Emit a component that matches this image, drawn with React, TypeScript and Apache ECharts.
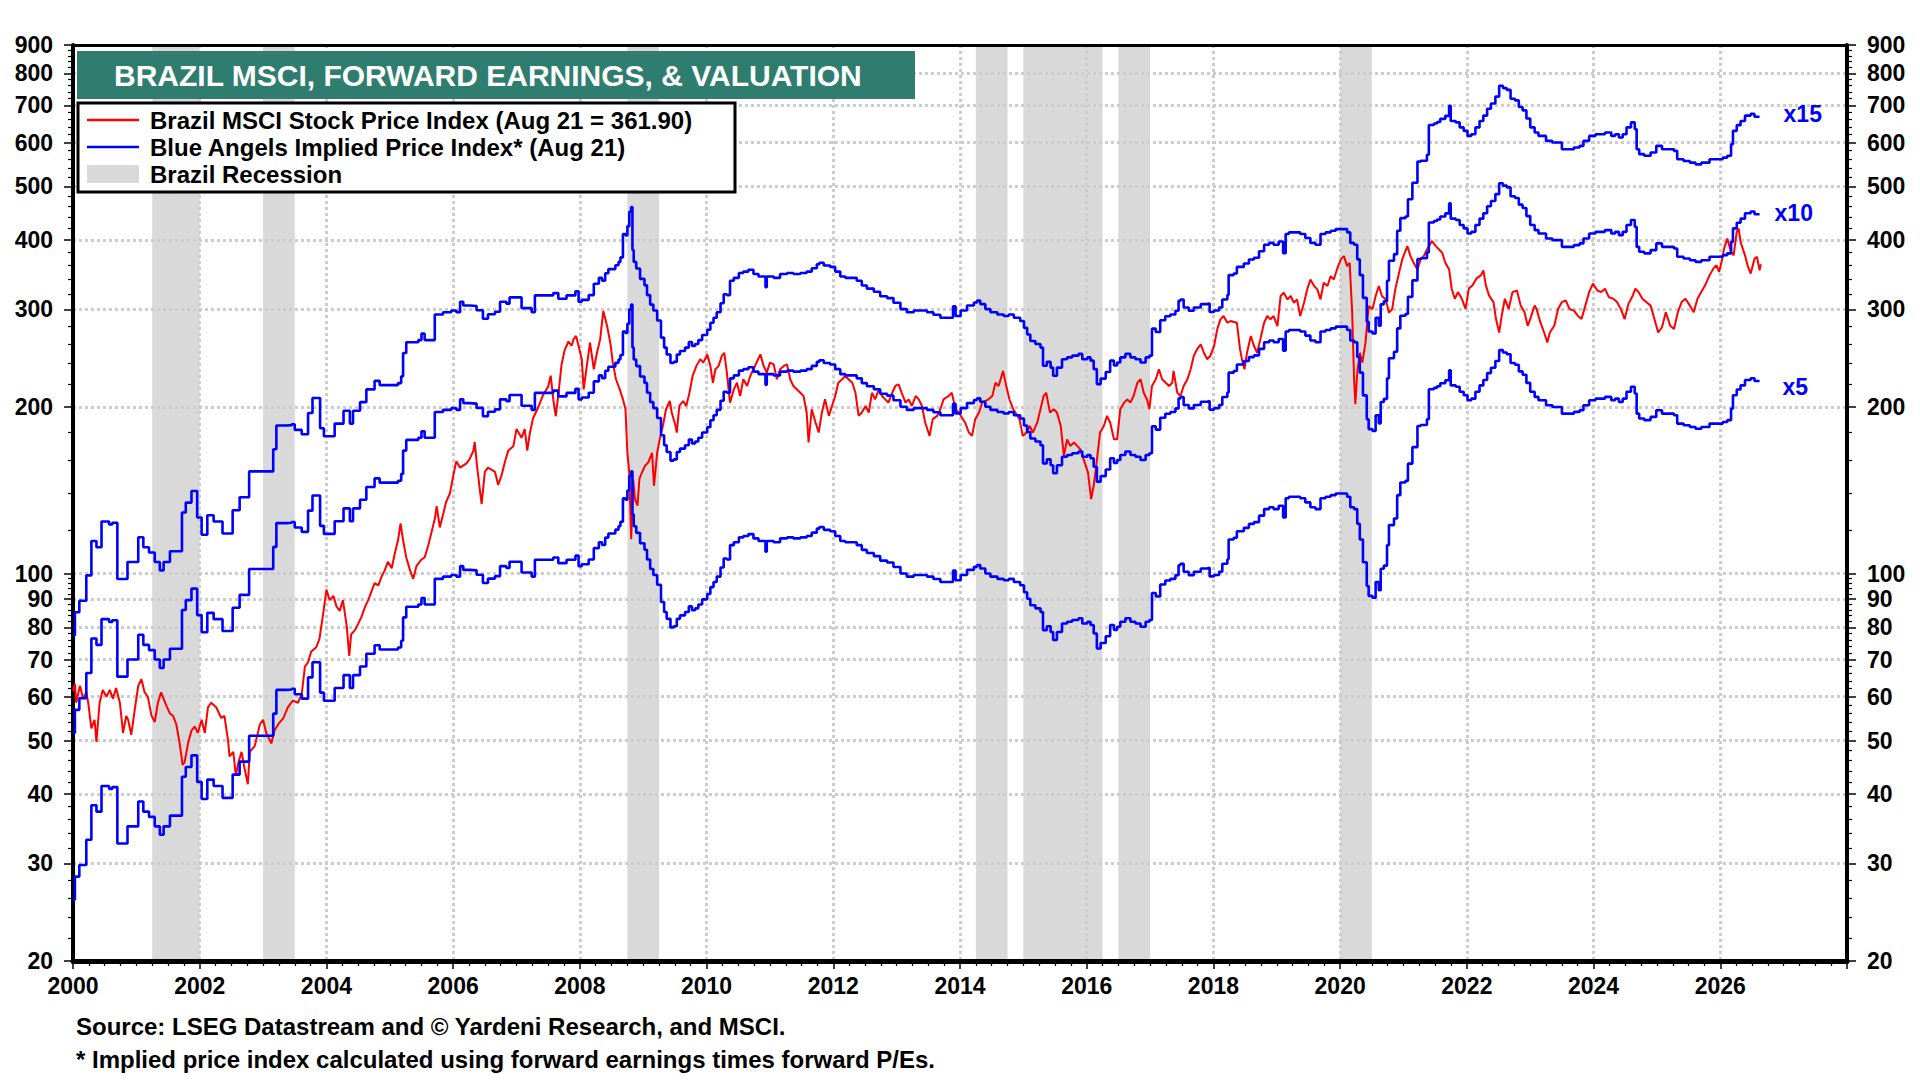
import React, { useEffect, useRef } from "react";
import * as echarts from "echarts";

const FONT = '"Liberation Sans", Arial, Helvetica, sans-serif';

// Y axis tick values (log scale)
const yMajorTicks = [20, 30, 40, 50, 60, 70, 80, 90, 100, 200, 300, 400, 500, 600, 700, 800, 900];
const yMinorTicks = [
  22, 24, 26, 28, 32, 34, 36, 38, 42, 44, 46, 48, 52, 54, 56, 58, 62, 64, 66, 68, 72, 74, 76, 78,
  82, 84, 86, 88, 92, 94, 96, 98, 120, 140, 160, 180, 220, 240, 260, 280, 320, 340, 360, 380,
  420, 440, 460, 480, 520, 540, 560, 580, 620, 640, 660, 680, 720, 740, 760, 780, 820, 840, 860, 880,
];

// Brazil recessions [start, end] in decimal years
const recessions: [number, number][] = [
  [2001.25, 2002.0],
  [2003.0, 2003.5],
  [2008.75, 2009.25],
  [2014.25, 2014.75],
  [2015.0, 2016.25],
  [2016.5, 2017.0],
  [2020.0, 2020.5],
];

// Forward P/E multiples for the implied price index lines
const peMultiples = [5, 10, 15];
const peLabels = ["x5", "x10", "x15"];

// Forward earnings (decimal year, value)
const fwdEarnings: [number, number][] = [
  [2000.0, 5.16], [2000.03, 5.68], [2000.1, 5.96], [2000.21, 6.62], [2000.29, 7.64], [2000.37, 7.44],
  [2000.45, 8.28], [2000.57, 8.18], [2000.62, 8.24], [2000.7, 6.52], [2000.86, 7.0], [2001.03, 7.76],
  [2001.11, 7.44], [2001.2, 7.28], [2001.29, 7.0], [2001.37, 6.76], [2001.43, 7.0], [2001.53, 7.32],
  [2001.72, 8.6], [2001.78, 8.96], [2001.87, 9.4], [2001.96, 8.42], [2002.03, 7.84], [2002.12, 8.5],
  [2002.22, 8.28], [2002.36, 7.88], [2002.52, 8.68], [2002.63, 9.16], [2002.78, 10.2], [2003.16, 11.18],
  [2003.21, 12.34], [2003.37, 12.36], [2003.45, 12.4], [2003.5, 12.12], [2003.61, 11.9], [2003.71, 13.0],
  [2003.78, 13.84], [2003.9, 12.2], [2003.96, 11.8], [2004.13, 12.44], [2004.27, 13.12], [2004.37, 12.44],
  [2004.42, 13.12], [2004.53, 13.6], [2004.63, 14.34], [2004.76, 14.86], [2004.84, 14.6], [2005.13, 14.72],
  [2005.18, 15.14], [2005.21, 16.68], [2005.26, 17.44], [2005.45, 17.6], [2005.5, 18.08], [2005.55, 17.6],
  [2005.71, 19.58], [2005.84, 19.76], [2005.97, 19.9], [2006.05, 19.76], [2006.11, 20.64], [2006.16, 20.32],
  [2006.26, 20.28], [2006.37, 19.92], [2006.47, 19.24], [2006.55, 19.6], [2006.66, 19.8], [2006.74, 20.64],
  [2006.84, 20.48], [2006.89, 21.02], [2007.08, 20.1], [2007.24, 19.76], [2007.29, 21.2], [2007.58, 21.4],
  [2007.66, 20.9], [2007.79, 21.2], [2007.93, 21.56], [2007.98, 20.64], [2008.03, 20.8], [2008.14, 21.22],
  [2008.22, 22.24], [2008.3, 22.8], [2008.35, 22.54], [2008.4, 23.24], [2008.45, 23.64], [2008.56, 24.02],
  [2008.61, 24.36], [2008.64, 24.82], [2008.68, 27.36], [2008.72, 27.2], [2008.75, 28.26], [2008.78, 30.0],
  [2008.81, 30.6], [2008.83, 25.6], [2008.85, 24.36], [2008.89, 23.7], [2008.95, 22.7], [2009.02, 22.1],
  [2009.06, 21.22], [2009.11, 20.4], [2009.16, 19.9], [2009.22, 19.1], [2009.28, 17.78], [2009.33, 17.06],
  [2009.37, 16.58], [2009.43, 16.0], [2009.48, 16.08], [2009.53, 16.58], [2009.58, 16.82], [2009.66, 17.06],
  [2009.72, 17.46], [2009.77, 17.18], [2009.82, 17.32], [2009.87, 17.6], [2009.93, 17.98], [2010.01, 18.38],
  [2010.06, 18.92], [2010.11, 19.32], [2010.16, 19.76], [2010.22, 20.52], [2010.27, 21.3], [2010.32, 21.22],
  [2010.37, 22.52], [2010.43, 22.8], [2010.51, 23.26], [2010.58, 23.4], [2010.66, 23.58], [2010.74, 23.16],
  [2010.82, 22.92], [2010.9, 22.92], [2010.93, 21.92], [2010.95, 22.92], [2011.06, 22.8], [2011.16, 23.16],
  [2011.27, 23.26], [2011.37, 23.16], [2011.48, 23.26], [2011.58, 23.4], [2011.66, 23.72], [2011.74, 24.12],
  [2011.78, 24.28], [2011.85, 24.0], [2011.95, 23.86], [2012.03, 23.4], [2012.11, 22.92], [2012.19, 22.8],
  [2012.3, 22.8], [2012.37, 22.52], [2012.45, 22.08], [2012.53, 21.8], [2012.64, 21.52], [2012.74, 21.12],
  [2012.85, 20.96], [2012.95, 20.56], [2013.06, 20.02], [2013.16, 19.76], [2013.27, 19.9], [2013.37, 19.9],
  [2013.48, 19.76], [2013.58, 19.56], [2013.69, 19.32], [2013.8, 19.32], [2013.87, 19.32], [2013.89, 20.26],
  [2013.93, 19.46], [2014.01, 19.9], [2014.11, 20.32], [2014.22, 20.58], [2014.27, 20.74], [2014.32, 20.44],
  [2014.4, 20.02], [2014.48, 19.76], [2014.59, 19.58], [2014.69, 19.46], [2014.77, 19.58], [2014.85, 19.32],
  [2014.95, 19.06], [2015.01, 18.52], [2015.06, 18.02], [2015.11, 17.54], [2015.19, 17.32], [2015.27, 17.06],
  [2015.31, 15.82], [2015.37, 16.08], [2015.43, 15.7], [2015.47, 15.18], [2015.53, 15.7], [2015.61, 16.26],
  [2015.69, 16.38], [2015.77, 16.5], [2015.87, 16.62], [2015.93, 16.26], [2016.01, 16.38], [2016.06, 16.16],
  [2016.11, 15.6], [2016.16, 14.66], [2016.22, 15.0], [2016.3, 15.42], [2016.37, 16.16], [2016.43, 15.84],
  [2016.48, 16.04], [2016.53, 16.38], [2016.61, 16.62], [2016.69, 16.38], [2016.77, 16.26], [2016.85, 16.04],
  [2016.93, 16.38], [2016.99, 16.5], [2017.03, 18.46], [2017.09, 18.2], [2017.16, 19.12], [2017.24, 19.44],
  [2017.32, 19.58], [2017.4, 19.88], [2017.45, 20.72], [2017.48, 20.84], [2017.53, 20.16], [2017.61, 19.88],
  [2017.69, 20.16], [2017.8, 20.44], [2017.9, 20.5], [2017.94, 19.78], [2018.01, 19.9], [2018.09, 20.16],
  [2018.14, 20.84], [2018.22, 21.24], [2018.24, 23.06], [2018.32, 23.22], [2018.37, 23.86], [2018.48, 24.2],
  [2018.56, 24.6], [2018.64, 24.78], [2018.72, 25.46], [2018.8, 26.16], [2018.88, 26.36], [2018.95, 26.16],
  [2019.03, 26.52], [2019.1, 25.26], [2019.14, 27.36], [2019.19, 27.54], [2019.27, 27.54], [2019.37, 27.36],
  [2019.45, 26.9], [2019.53, 26.36], [2019.61, 26.16], [2019.69, 27.36], [2019.77, 27.54], [2019.85, 27.72],
  [2019.93, 27.92], [2020.03, 27.92], [2020.11, 27.54], [2020.16, 26.36], [2020.22, 26.16], [2020.27, 24.62],
  [2020.31, 23.06], [2020.36, 20.98], [2020.42, 19.0], [2020.45, 18.24], [2020.51, 18.1], [2020.56, 19.32],
  [2020.61, 18.68], [2020.64, 20.42], [2020.69, 20.68], [2020.74, 22.52], [2020.77, 24.48], [2020.85, 25.16],
  [2020.9, 27.72], [2020.95, 29.22], [2021.03, 29.42], [2021.07, 31.6], [2021.14, 33.84], [2021.22, 36.96],
  [2021.27, 37.1], [2021.32, 37.1], [2021.37, 38.02], [2021.4, 43.04], [2021.48, 43.3], [2021.53, 43.58],
  [2021.58, 44.14], [2021.66, 44.7], [2021.72, 46.6], [2021.745, 43.74], [2021.825, 43.5], [2021.887, 42.6],
  [2021.95, 42.0], [2022.01, 41.12], [2022.07, 41.4], [2022.135, 42.6], [2022.2, 43.74], [2022.26, 44.74],
  [2022.32, 46.04], [2022.38, 47.06], [2022.45, 48.42], [2022.51, 50.66], [2022.57, 50.16], [2022.63, 49.8],
  [2022.69, 48.0], [2022.76, 47.66], [2022.82, 46.36], [2022.88, 45.72], [2022.94, 44.2], [2023.0, 42.6],
  [2023.07, 41.7], [2023.13, 41.12], [2023.25, 40.28], [2023.35, 40.0], [2023.5, 38.9], [2023.69, 39.18],
  [2023.78, 39.46], [2023.84, 40.28], [2023.93, 41.12], [2024.03, 41.4], [2024.18, 41.7], [2024.28, 41.12],
  [2024.34, 41.4], [2024.4, 40.84], [2024.46, 41.4], [2024.52, 42.6], [2024.59, 43.5], [2024.65, 42.3],
  [2024.68, 38.9], [2024.72, 38.12], [2024.8, 37.86], [2024.9, 38.38], [2024.99, 39.46], [2025.08, 38.9],
  [2025.27, 38.64], [2025.32, 37.32], [2025.42, 37.06], [2025.52, 36.8], [2025.61, 36.54], [2025.7, 36.8],
  [2025.83, 37.32], [2025.95, 37.32], [2026.04, 37.58], [2026.11, 37.86], [2026.17, 39.72], [2026.2, 42.0],
  [2026.26, 43.0], [2026.32, 43.74], [2026.39, 44.74], [2026.48, 45.06], [2026.54, 44.54], [2026.62, 44.54],
];

// Brazil MSCI stock price index (decimal year, value)
const msciPrice: [number, number][] = [
  [2000.0, 61.5], [2000.03, 63.3], [2000.05, 58.5], [2000.11, 62.8], [2000.16, 59.5], [2000.21, 61.1],
  [2000.24, 58.5], [2000.29, 52.6], [2000.34, 54.5], [2000.37, 49.7], [2000.42, 58.5], [2000.47, 61.7],
  [2000.53, 60.0], [2000.58, 61.7], [2000.63, 59.5], [2000.68, 62.2], [2000.74, 58.5], [2000.79, 51.6],
  [2000.84, 55.4], [2000.87, 54.5], [2000.92, 51.2], [2000.97, 56.4], [2001.03, 62.8], [2001.08, 64.5],
  [2001.13, 61.1], [2001.18, 60.0], [2001.24, 55.4], [2001.29, 54.0], [2001.34, 58.5], [2001.39, 61.1],
  [2001.47, 57.9], [2001.53, 55.9], [2001.58, 55.4], [2001.63, 53.5], [2001.68, 49.7], [2001.73, 45.2],
  [2001.76, 45.6], [2001.82, 49.7], [2001.87, 52.1], [2001.92, 53.0], [2001.97, 51.6], [2002.03, 54.5],
  [2002.08, 51.6], [2002.13, 57.4], [2002.18, 58.5], [2002.26, 57.4], [2002.34, 54.9], [2002.39, 55.4],
  [2002.45, 49.7], [2002.47, 46.8], [2002.53, 47.7], [2002.57, 43.2], [2002.61, 45.6], [2002.66, 47.7],
  [2002.71, 44.4], [2002.76, 41.7], [2002.79, 47.7], [2002.87, 48.9], [2002.95, 53.5], [2003.0, 54.5],
  [2003.05, 51.6], [2003.13, 49.4], [2003.18, 52.1], [2003.24, 53.5], [2003.32, 54.9], [2003.39, 57.4],
  [2003.47, 59.0], [2003.55, 58.5], [2003.61, 60.6], [2003.66, 68.0], [2003.71, 69.2], [2003.76, 72.4],
  [2003.84, 73.7], [2003.89, 76.3], [2003.95, 84.9], [2004.0, 93.6], [2004.05, 89.6], [2004.11, 91.2],
  [2004.16, 87.2], [2004.21, 85.7], [2004.26, 89.6], [2004.32, 80.5], [2004.36, 71.1], [2004.39, 77.7],
  [2004.45, 79.1], [2004.5, 81.2], [2004.55, 83.4], [2004.61, 87.2], [2004.66, 89.6], [2004.71, 92.8],
  [2004.76, 96.2], [2004.82, 95.3], [2004.87, 98.8], [2004.92, 101.4], [2004.97, 105.1], [2005.03, 102.3],
  [2005.08, 108.9], [2005.13, 114.9], [2005.17, 123.3], [2005.21, 114.9], [2005.26, 107.0], [2005.32, 101.4],
  [2005.37, 97.9], [2005.42, 103.2], [2005.5, 106.1], [2005.55, 107.0], [2005.61, 112.8], [2005.66, 119.0],
  [2005.71, 125.5], [2005.74, 132.4], [2005.79, 121.2], [2005.84, 127.8], [2005.89, 134.8], [2005.95, 139.7],
  [2006.0, 150.0], [2006.05, 159.6], [2006.11, 155.4], [2006.21, 158.2], [2006.26, 161.0], [2006.32, 166.8],
  [2006.34, 172.9], [2006.38, 155.4], [2006.42, 142.2], [2006.45, 133.6], [2006.5, 152.7], [2006.55, 155.4],
  [2006.61, 154.0], [2006.66, 152.7], [2006.71, 144.7], [2006.76, 150.0], [2006.82, 159.6], [2006.87, 166.8],
  [2006.95, 169.8], [2007.0, 182.4], [2007.08, 175.9], [2007.13, 182.4], [2007.17, 166.8], [2007.21, 179.1],
  [2007.26, 190.6], [2007.34, 199.3], [2007.42, 210.2], [2007.5, 217.8], [2007.54, 227.7], [2007.58, 206.5],
  [2007.62, 192.4], [2007.66, 210.2], [2007.71, 238.0], [2007.76, 253.3], [2007.82, 262.5], [2007.87, 257.9],
  [2007.9, 264.8], [2007.94, 268.6], [2007.98, 257.6], [2008.03, 243.9], [2008.06, 215.1], [2008.11, 237.2],
  [2008.16, 261.2], [2008.22, 233.9], [2008.27, 250.5], [2008.32, 264.8], [2008.37, 297.9], [2008.43, 279.9],
  [2008.48, 261.2], [2008.52, 240.4], [2008.57, 224.4], [2008.63, 215.1], [2008.68, 206.4], [2008.72, 198.1],
  [2008.75, 165.3], [2008.78, 152.4], [2008.81, 115.4], [2008.84, 148.3], [2008.87, 136.4], [2008.91, 132.7],
  [2008.94, 148.3], [2008.98, 152.4], [2009.03, 156.6], [2009.08, 158.8], [2009.14, 165.3], [2009.17, 144.1],
  [2009.22, 165.3], [2009.26, 174.8], [2009.31, 184.8], [2009.36, 198.1], [2009.42, 205.0], [2009.45, 195.4],
  [2009.51, 184.8], [2009.53, 179.8], [2009.57, 200.8], [2009.63, 205.0], [2009.68, 200.8], [2009.73, 212.1],
  [2009.78, 227.5], [2009.84, 237.2], [2009.9, 243.9], [2009.95, 240.4], [2010.01, 248.8], [2010.06, 237.2],
  [2010.1, 221.1], [2010.14, 233.9], [2010.19, 237.2], [2010.24, 247.2], [2010.28, 250.5], [2010.32, 230.6],
  [2010.37, 203.6], [2010.43, 215.1], [2010.48, 221.1], [2010.53, 209.3], [2010.58, 224.4], [2010.64, 218.2],
  [2010.69, 227.5], [2010.74, 233.9], [2010.8, 242.1], [2010.85, 248.8], [2010.9, 237.2], [2010.95, 230.6],
  [2011.0, 240.4], [2011.06, 238.7], [2011.11, 224.4], [2011.16, 233.9], [2011.22, 237.2], [2011.27, 238.7],
  [2011.32, 224.4], [2011.37, 218.2], [2011.48, 212.1], [2011.53, 209.3], [2011.58, 195.4], [2011.61, 172.5],
  [2011.66, 198.1], [2011.72, 187.5], [2011.77, 179.8], [2011.82, 195.4], [2011.87, 206.4], [2011.93, 192.7],
  [2011.98, 200.8], [2012.03, 209.3], [2012.08, 221.1], [2012.14, 224.4], [2012.19, 227.5], [2012.24, 224.4],
  [2012.3, 221.1], [2012.35, 212.1], [2012.4, 192.7], [2012.45, 195.4], [2012.51, 200.8], [2012.56, 195.4],
  [2012.61, 212.1], [2012.66, 206.4], [2012.72, 215.1], [2012.77, 209.3], [2012.82, 206.4], [2012.87, 203.6],
  [2012.93, 212.1], [2012.98, 218.2], [2013.03, 219.7], [2013.08, 212.1], [2013.14, 203.6], [2013.19, 206.4],
  [2013.24, 200.8], [2013.3, 209.3], [2013.35, 206.4], [2013.4, 200.8], [2013.45, 187.5], [2013.52, 177.3],
  [2013.57, 190.1], [2013.64, 192.7], [2013.69, 198.1], [2013.74, 206.4], [2013.82, 209.3], [2013.87, 212.1],
  [2013.93, 198.1], [2013.98, 195.4], [2014.08, 187.5], [2014.14, 179.8], [2014.19, 177.3], [2014.24, 190.1],
  [2014.3, 195.4], [2014.35, 203.6], [2014.45, 206.4], [2014.51, 209.3], [2014.56, 221.1], [2014.61, 218.2],
  [2014.68, 232.3], [2014.73, 218.2], [2014.78, 206.4], [2014.84, 198.1], [2014.94, 190.1], [2014.99, 177.3],
  [2015.05, 179.8], [2015.1, 184.8], [2015.15, 179.8], [2015.22, 187.5], [2015.27, 198.1], [2015.32, 209.3],
  [2015.36, 212.1], [2015.42, 195.4], [2015.48, 198.1], [2015.53, 195.4], [2015.59, 184.8], [2015.64, 163.2],
  [2015.69, 174.8], [2015.74, 170.1], [2015.8, 172.5], [2015.85, 170.1], [2015.9, 167.7], [2015.95, 161.0],
  [2016.02, 152.4], [2016.07, 136.4], [2016.11, 144.1], [2016.15, 156.6], [2016.21, 179.8], [2016.27, 184.8],
  [2016.32, 192.7], [2016.37, 187.5], [2016.43, 174.8], [2016.48, 174.8], [2016.53, 198.1], [2016.59, 203.6],
  [2016.64, 206.4], [2016.69, 203.6], [2016.74, 209.3], [2016.8, 221.1], [2016.85, 224.4], [2016.9, 212.1],
  [2016.95, 206.4], [2016.99, 198.1], [2017.03, 218.2], [2017.09, 224.4], [2017.14, 233.9], [2017.19, 224.4],
  [2017.3, 218.2], [2017.35, 221.1], [2017.37, 232.3], [2017.43, 212.1], [2017.48, 209.3], [2017.53, 218.2],
  [2017.59, 224.4], [2017.64, 233.9], [2017.69, 247.2], [2017.74, 254.0], [2017.8, 259.4], [2017.85, 250.5],
  [2017.9, 243.9], [2017.95, 247.2], [2018.01, 257.6], [2018.06, 276.1], [2018.11, 287.8], [2018.16, 291.8],
  [2018.22, 283.8], [2018.27, 285.8], [2018.37, 283.8], [2018.42, 254.0], [2018.45, 243.9], [2018.49, 233.9],
  [2018.53, 250.5], [2018.59, 268.6], [2018.64, 257.6], [2018.69, 250.5], [2018.74, 264.8], [2018.8, 283.8],
  [2018.85, 291.8], [2018.9, 287.8], [2018.95, 291.8], [2019.01, 279.9], [2019.06, 317.1], [2019.11, 321.5],
  [2019.17, 312.7], [2019.22, 317.1], [2019.27, 308.4], [2019.32, 312.7], [2019.37, 291.8], [2019.43, 308.4],
  [2019.48, 325.9], [2019.53, 339.7], [2019.59, 330.5], [2019.64, 325.9], [2019.69, 312.7], [2019.74, 335.1],
  [2019.8, 330.5], [2019.85, 344.5], [2019.9, 339.7], [2019.95, 354.1], [2020.01, 369.2], [2020.06, 374.3],
  [2020.11, 359.1], [2020.15, 364.1], [2020.19, 295.9], [2020.22, 224.4], [2020.24, 202.2], [2020.27, 230.6],
  [2020.31, 250.5], [2020.35, 240.4], [2020.4, 261.2], [2020.45, 304.2], [2020.51, 300.0], [2020.56, 317.1],
  [2020.61, 330.5], [2020.66, 317.1], [2020.72, 312.7], [2020.77, 295.9], [2020.82, 300.0], [2020.87, 325.9],
  [2020.93, 349.3], [2020.98, 369.2], [2021.06, 390.2], [2021.11, 374.3], [2021.16, 364.1], [2021.22, 354.1],
  [2021.27, 369.2], [2021.32, 374.3], [2021.37, 384.8], [2021.45, 398.4], [2021.51, 390.2], [2021.61, 379.6],
  [2021.66, 364.1], [2021.72, 354.1], [2021.76, 326.9], [2021.81, 313.5], [2021.86, 322.3], [2021.92, 313.5],
  [2021.98, 300.5], [2022.03, 326.9], [2022.09, 331.5], [2022.15, 340.8], [2022.22, 345.5], [2022.26, 352.8],
  [2022.3, 331.5], [2022.35, 317.9], [2022.42, 309.2], [2022.46, 288.1], [2022.51, 272.5], [2022.55, 292.2],
  [2022.6, 313.5], [2022.66, 300.5], [2022.72, 322.3], [2022.79, 324.5], [2022.85, 304.7], [2022.91, 296.4],
  [2022.96, 280.2], [2023.0, 288.1], [2023.07, 304.7], [2023.1, 300.5], [2023.16, 284.2], [2023.22, 272.5],
  [2023.27, 261.5], [2023.31, 272.5], [2023.38, 280.2], [2023.44, 300.5], [2023.5, 309.2], [2023.56, 311.3],
  [2023.62, 300.5], [2023.69, 298.5], [2023.75, 292.2], [2023.81, 288.1], [2023.87, 304.7], [2023.93, 322.3],
  [2023.99, 333.8], [2024.06, 324.5], [2024.12, 322.3], [2024.18, 326.9], [2024.24, 315.6], [2024.31, 313.5],
  [2024.37, 309.2], [2024.43, 300.5], [2024.49, 288.1], [2024.55, 306.9], [2024.62, 317.9], [2024.66, 326.9],
  [2024.71, 322.3], [2024.77, 313.5], [2024.9, 304.7], [2024.96, 288.1], [2025.02, 272.5], [2025.08, 278.5],
  [2025.14, 296.4], [2025.21, 280.2], [2025.27, 276.4], [2025.33, 296.4], [2025.39, 309.2], [2025.45, 313.5],
  [2025.52, 304.7], [2025.58, 296.4], [2025.64, 313.5], [2025.7, 322.3], [2025.76, 331.5], [2025.83, 345.5],
  [2025.89, 355.3], [2025.94, 360.3], [2025.98, 350.5], [2026.02, 365.3], [2026.06, 386.2], [2026.11, 402.8],
  [2026.17, 380.8], [2026.21, 375.5], [2026.26, 414.1], [2026.29, 419.7], [2026.32, 397.2], [2026.39, 375.5],
  [2026.43, 360.3], [2026.48, 348.1], [2026.54, 370.4], [2026.58, 373.0], [2026.62, 352.8], [2026.64, 361.9],
];

const titleText = "BRAZIL MSCI, FORWARD EARNINGS, & VALUATION";
const legendTexts = [
  "Brazil MSCI Stock Price Index (Aug 21 = 361.90)",
  "Blue Angels Implied Price Index* (Aug 21)",
  "Brazil Recession",
];
const footnotes = [
  "Source: LSEG Datastream and \u00a9 Yardeni Research, and MSCI.",
  "* Implied price index calculated using forward earnings times forward P/Es.",
];

const GRID_LINE = { color: "#cdcdcd", width: 3, type: [3, 3] as number[] };
const AXIS_LABEL = { color: "#000", fontSize: 23, fontWeight: "bold" as const, fontFamily: FONT };

const endLabelOffsets: Record<string, [number, number]> = {
  x5: [23, 6],
  x10: [15, -1],
  x15: [24, -3],
};

function buildOption() {
  const majorY = (position: "left" | "right") => ({
    type: "log",
    logBase: 10,
    min: 20,
    max: 900,
    position,
    axisLine: { show: true, onZero: false, lineStyle: { color: "#000", width: 4 } },
    axisTick: { show: true, customValues: yMajorTicks, length: 9, lineStyle: { color: "#000", width: 1.5 } },
    axisLabel: {
      ...AXIS_LABEL,
      customValues: yMajorTicks,
      margin: 20,
      formatter: (v: number) => String(Math.round(v)),
    },
    splitLine: { show: position === "left", lineStyle: GRID_LINE },
    minorTick: { show: false },
    minorSplitLine: { show: false },
  });
  const minorY = (position: "left" | "right") => ({
    type: "log",
    logBase: 10,
    min: 20,
    max: 900,
    position,
    axisLine: { show: false },
    axisTick: { show: true, customValues: yMinorTicks, length: 5, lineStyle: { color: "#000", width: 1.2 } },
    axisLabel: { show: false },
    splitLine: { show: false },
  });

  const blueSeries = peMultiples.map((pe, i) => ({
    type: "line",
    name: `Implied ${peLabels[i]}`,
    step: "end",
    xAxisIndex: 0,
    yAxisIndex: 0,
    symbol: "none",
    z: 4,
    lineStyle: { color: "#0000ff", width: 2.6 },
    itemStyle: { color: "#0000ff" },
    data: fwdEarnings.map(([t, e]) => [t, +(e * pe).toFixed(2)]),
    endLabel: {
      show: true,
      formatter: peLabels[i],
      color: "#0000ff",
      fontSize: 23,
      fontWeight: "bold",
      fontFamily: FONT,
      distance: 0,
      offset: endLabelOffsets[peLabels[i]],
    },
  }));

  const txt = (text: string, x: number, y: number, size: number, fill: string) => ({
    type: "text",
    x,
    y,
    z: 101,
    style: {
      text,
      fill,
      fontSize: size,
      fontWeight: "bold",
      fontFamily: FONT,
      verticalAlign: "middle",
      textVerticalAlign: "middle",
    },
  });

  return {
    animation: false,
    backgroundColor: "#ffffff",
    textStyle: { fontFamily: FONT },
    grid: { left: 73, right: 73, top: 45, bottom: 119, containLabel: false },
    xAxis: [
      {
        type: "value",
        min: 2000,
        max: 2028,
        interval: 2,
        position: "bottom",
        axisLine: { show: true, onZero: false, lineStyle: { color: "#000", width: 5 } },
        axisTick: { show: true, length: 8, lineStyle: { color: "#000", width: 1.5 } },
        minorTick: { show: true, splitNumber: 8, length: 5, lineStyle: { color: "#000", width: 1.2 } },
        axisLabel: {
          ...AXIS_LABEL,
          margin: 13,
          showMaxLabel: false,
          formatter: (v: number) => (v >= 2028 ? "" : String(v)),
        },
        splitLine: { show: true, lineStyle: GRID_LINE },
      },
      {
        type: "value",
        min: 2000,
        max: 2028,
        position: "top",
        axisLine: { show: true, onZero: false, lineStyle: { color: "#000", width: 3 } },
        axisTick: { show: false },
        axisLabel: { show: false },
        splitLine: { show: false },
      },
    ],
    yAxis: [majorY("left"), minorY("left"), majorY("right"), minorY("right")],
    series: [
      {
        type: "line",
        name: legendTexts[0],
        xAxisIndex: 0,
        yAxisIndex: 0,
        symbol: "none",
        z: 3,
        lineStyle: { color: "#ff0000", width: 2 },
        itemStyle: { color: "#ff0000" },
        data: msciPrice,
        markArea: {
          silent: true,
          z: -1,
          itemStyle: { color: "#d9d9d9" },
          data: recessions.map(([s, e]) => [{ xAxis: s }, { xAxis: e }]),
        },
      },
      ...blueSeries,
    ],
    graphic: [
      { type: "rect", z: 100, shape: { x: 77, y: 51, width: 838, height: 48 }, style: { fill: "#2e7d6e" } },
      txt(titleText, 114, 75, 30, "#ffffff"),
      {
        type: "rect",
        z: 100,
        shape: { x: 78, y: 103, width: 657, height: 89 },
        style: { fill: "#ffffff", stroke: "#000000", lineWidth: 3 },
      },
      { type: "line", z: 101, shape: { x1: 87, y1: 120, x2: 139, y2: 120 }, style: { stroke: "#ff0000", lineWidth: 2.5 } },
      { type: "line", z: 101, shape: { x1: 87, y1: 147, x2: 139, y2: 147 }, style: { stroke: "#0000ff", lineWidth: 2.5 } },
      { type: "rect", z: 101, shape: { x: 87, y: 165, width: 52, height: 18 }, style: { fill: "#d9d9d9" } },
      txt(legendTexts[0], 150, 120, 24, "#000000"),
      txt(legendTexts[1], 150, 147, 24, "#000000"),
      txt(legendTexts[2], 150, 174, 24, "#000000"),
      txt(footnotes[0], 76, 1026, 24, "#000000"),
      txt(footnotes[1], 76, 1059, 24, "#000000"),
    ],
  };
}

export default function App() {
  const ref = useRef<HTMLDivElement | null>(null);
  useEffect(() => {
    if (!ref.current) return;
    const chart = echarts.init(ref.current, undefined, { renderer: "svg" });
    chart.setOption(buildOption() as any);
    return () => chart.dispose();
  }, []);
  return (
    <div
      ref={ref}
      style={{ position: "fixed", left: 0, top: 0, width: "1920px", height: "1080px", background: "#fff" }}
    />
  );
}
